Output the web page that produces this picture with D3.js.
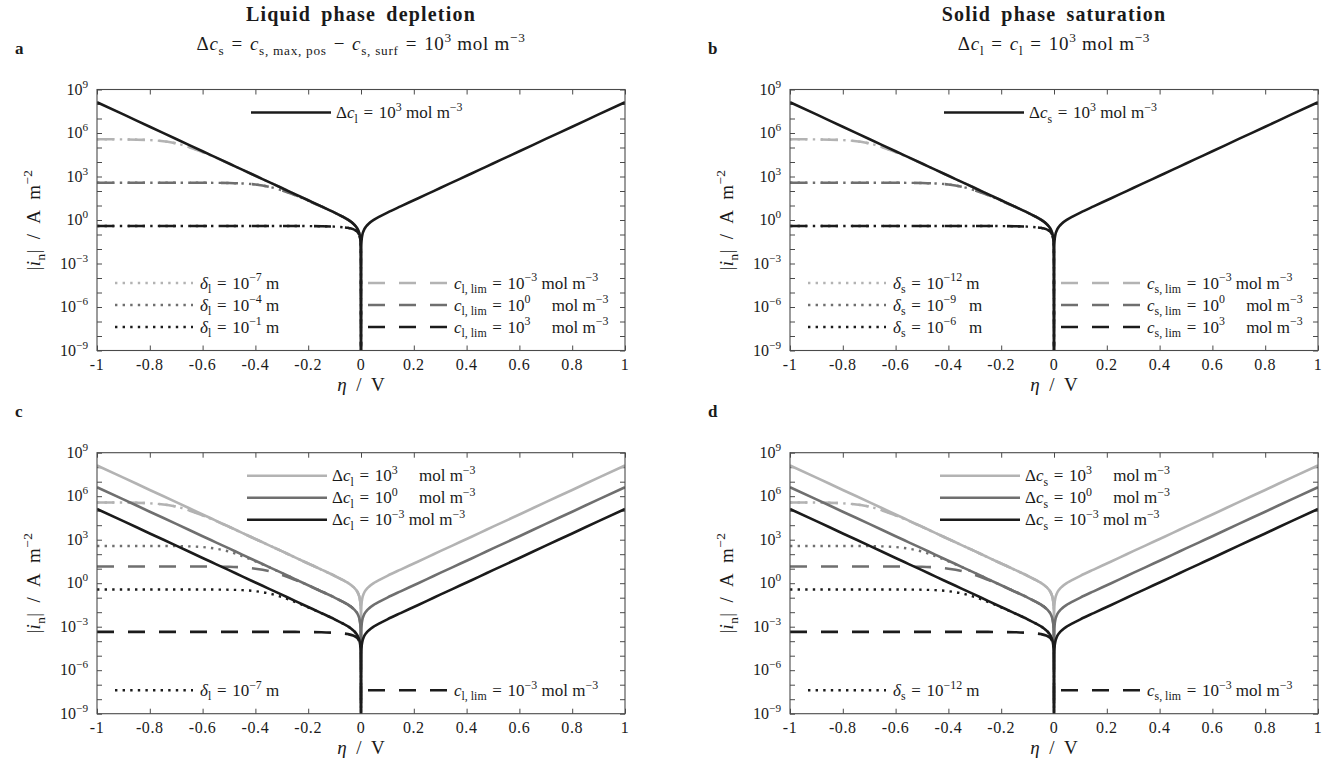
<!DOCTYPE html>
<html>
<head>
<meta charset="utf-8">
<script src="https://cdn.jsdelivr.net/npm/d3@7"></script>
<style>
  html, body { margin: 0; padding: 0; background: #fff; }
  svg { display: block; font-family: "Liberation Serif", "DejaVu Serif", serif; }
</style>
</head>
<body>
<svg id="fig" width="1322" height="768"></svg>
<script>
// ---------------------------------------------------------------------------
// Overpotential grids (V)
const etaNeg = [-1, -0.9, -0.8, -0.7, -0.6, -0.55, -0.5, -0.45, -0.4, -0.35, -0.3, -0.25,
  -0.2, -0.15, -0.1, -0.07, -0.05, -0.03, -0.02, -0.01, -0.005, -0.002, -0.001, -0.0003, 0];
const etaFull = [-1, -0.9, -0.8, -0.7, -0.6, -0.55, -0.5, -0.45, -0.4, -0.35, -0.3, -0.25,
  -0.2, -0.15, -0.1, -0.07, -0.05, -0.03, -0.02, -0.01, -0.005, -0.002, -0.001, -0.0003, 0,
  0.0003, 0.001, 0.002, 0.005, 0.01, 0.02, 0.03, 0.05, 0.07, 0.1, 0.15, 0.2, 0.25, 0.3,
  0.35, 0.4, 0.45, 0.5, 0.55, 0.6, 0.7, 0.8, 0.9, 1];

// log10 |i_n| (A m^-2), kinetic curves on etaFull
const bvHi = [8.12, 7.28, 6.43, 5.59, 4.74, 4.32, 3.90, 3.47, 3.05, 2.63, 2.21, 1.78, 1.36, 0.94,
  0.51, 0.23, 0.03, -0.24, -0.43, -0.74, -1.04, -1.44, -1.74, -2.26, -9,
  -2.26, -1.74, -1.44, -1.04, -0.74, -0.43, -0.24, 0.03, 0.23, 0.51, 0.94, 1.36, 1.78, 2.21,
  2.63, 3.05, 3.47, 3.90, 4.32, 4.74, 5.59, 6.43, 7.28, 8.12];
const bvMid = [6.62, 5.78, 4.93, 4.09, 3.24, 2.82, 2.40, 1.97, 1.55, 1.13, 0.71, 0.28, -0.14, -0.56,
  -0.99, -1.27, -1.47, -1.74, -1.93, -2.24, -2.54, -2.94, -3.24, -3.76, -9,
  -3.76, -3.24, -2.94, -2.54, -2.24, -1.93, -1.74, -1.47, -1.27, -0.99, -0.56, -0.14, 0.28, 0.71,
  1.13, 1.55, 1.97, 2.40, 2.82, 3.24, 4.09, 4.93, 5.78, 6.62];
const bvLo = [5.12, 4.28, 3.43, 2.59, 1.74, 1.32, 0.90, 0.47, 0.05, -0.37, -0.79, -1.22, -1.64, -2.06,
  -2.49, -2.77, -2.97, -3.24, -3.43, -3.74, -4.04, -4.44, -4.74, -5.26, -9,
  -5.26, -4.74, -4.44, -4.04, -3.74, -3.43, -3.24, -2.97, -2.77, -2.49, -2.06, -1.64, -1.22, -0.79,
  -0.37, 0.05, 0.47, 0.90, 1.32, 1.74, 2.59, 3.43, 4.28, 5.12];

// log10 |i_n| with transport limitation, on etaNeg
const limHi = [5.57, 5.56, 5.51, 5.28, 4.68, 4.30, 3.89, 3.47, 3.05, 2.63, 2.21, 1.78, 1.36, 0.94,
  0.51, 0.23, 0.03, -0.24, -0.43, -0.74, -1.04, -1.44, -1.74, -2.26, -9];
const limMid = [2.57, 2.57, 2.57, 2.57, 2.57, 2.56, 2.55, 2.52, 2.45, 2.30, 2.05, 1.72, 1.33, 0.93,
  0.51, 0.23, 0.03, -0.24, -0.43, -0.74, -1.04, -1.44, -1.74, -2.26, -9];
const limLo = [-0.41, -0.41, -0.41, -0.41, -0.41, -0.41, -0.41, -0.41, -0.41, -0.41, -0.41, -0.41,
  -0.42, -0.43, -0.46, -0.50, -0.54, -0.63, -0.72, -0.91, -1.13, -1.48, -1.76, -2.27, -9];
const dotMid = [2.57, 2.57, 2.57, 2.56, 2.49, 2.38, 2.18, 1.87, 1.51, 1.12, 0.70, 0.28, -0.14, -0.56,
  -0.99, -1.27, -1.47, -1.74, -1.93, -2.24, -2.54, -2.94, -3.24, -3.76, -9];
const dashMid = [1.15, 1.15, 1.15, 1.15, 1.15, 1.14, 1.13, 1.09, 1.00, 0.84, 0.58, 0.23, -0.16, -0.57,
  -0.99, -1.27, -1.47, -1.74, -1.93, -2.24, -2.54, -2.94, -3.24, -3.76, -9];
const dotLo = [-0.43, -0.43, -0.43, -0.43, -0.43, -0.44, -0.45, -0.48, -0.55, -0.70, -0.95, -1.29,
  -1.67, -2.07, -2.49, -2.77, -2.97, -3.24, -3.43, -3.74, -4.04, -4.44, -4.74, -5.26, -9];
const dashLo = [-3.36, -3.36, -3.36, -3.36, -3.36, -3.36, -3.36, -3.36, -3.36, -3.36, -3.36, -3.36,
  -3.37, -3.38, -3.42, -3.46, -3.51, -3.61, -3.70, -3.89, -4.12, -4.47, -4.76, -5.27, -9];

// Axis ticks
const xTicks = [-1, -0.8, -0.6, -0.4, -0.2, 0, 0.2, 0.4, 0.6, 0.8, 1];
const xTickLabels = ["-1", "-0.8", "-0.6", "-0.4", "-0.2", "0", "0.2", "0.4", "0.6", "0.8", "1"];
const yDecades = d3.range(-9, 10);
const yLabelExps = [9, 6, 3, 0, -3, -6, -9];
const yLabelTexts = ["9", "6", "3", "0", "\u22123", "\u22126", "\u22129"];

// Text (markup: *italic*, _{sub}, ^{sup})
const panelLetters = ["a", "b", "c", "d"];
const titles = ["Liquid phase depletion", "Solid phase saturation"];
const subtitles = [
  "\u0394*c*_{s} = *c*_{s, max, pos} \u2212 *c*_{s, surf} = 10^{3} mol m^{\u22123}",
  "\u0394*c*_{l} = *c*_{l} = 10^{3} mol m^{\u22123}"
];
const yTitle = "|*i*_{n}|\u2002/\u2002A\u2002m^{\u22122}";
const xTitle = "*\u03b7*\u2002/\u2002V";

const legTopA = ["\u0394*c*_{l} = 10^{3} mol m^{\u22123}"];
const legTopB = ["\u0394*c*_{s} = 10^{3} mol m^{\u22123}"];
const legDeltaA = ["*\u03b4*_{l} = 10^{\u22127} m", "*\u03b4*_{l} = 10^{\u22124} m", "*\u03b4*_{l} = 10^{\u22121} m"];
const legDeltaB = ["*\u03b4*_{s} = 10^{\u221212} m", "*\u03b4*_{s} = 10^{\u22129}\u2002 m", "*\u03b4*_{s} = 10^{\u22126}\u2002 m"];
const legLimA = ["*c*_{l, lim} = 10^{\u22123} mol m^{\u22123}", "*c*_{l, lim} = 10^{0}\u2003 mol m^{\u22123}", "*c*_{l, lim} = 10^{3}\u2003 mol m^{\u22123}"];
const legLimB = ["*c*_{s, lim} = 10^{\u22123} mol m^{\u22123}", "*c*_{s, lim} = 10^{0}\u2003 mol m^{\u22123}", "*c*_{s, lim} = 10^{3}\u2003 mol m^{\u22123}"];
const legTopC = ["\u0394*c*_{l} = 10^{3}\u2003 mol m^{\u22123}", "\u0394*c*_{l} = 10^{0}\u2003 mol m^{\u22123}", "\u0394*c*_{l} = 10^{\u22123} mol m^{\u22123}"];
const legTopD = ["\u0394*c*_{s} = 10^{3}\u2003 mol m^{\u22123}", "\u0394*c*_{s} = 10^{0}\u2003 mol m^{\u22123}", "\u0394*c*_{s} = 10^{\u22123} mol m^{\u22123}"];
const legDeltaC = ["*\u03b4*_{l} = 10^{\u22127} m"];
const legDeltaD = ["*\u03b4*_{s} = 10^{\u221212} m"];
const legLimC = ["*c*_{l, lim} = 10^{\u22123} mol m^{\u22123}"];
const legLimD = ["*c*_{s, lim} = 10^{\u22123} mol m^{\u22123}"];

// ---------------------------------------------------------------------------
const LIGHT = "#b3b3b3", MID = "#6f6f6f", DARK = "#1b1b1b";
const DASH = "17,14", DOT = "2.4,5.2";
const W = 528, H = 261;
const svg = d3.select("#fig");

// rich text with italics, subscripts and superscripts; relations get math spacing
function rich(parent, str, size) {
  str = str.replace(/ = /g, "\u2004=\u2004").replace(/ \u2212 /g, "\u2004\u2212\u2004");
  const t = parent.append("text").attr("font-size", size).attr("fill", "#1a1a1a");
  const segs = [];
  let buf = "", it = false, i = 0;
  const flush = () => { if (buf) { segs.push({ s: buf, it, sh: 0 }); buf = ""; } };
  while (i < str.length) {
    const ch = str[i];
    if (ch === "*") { flush(); it = !it; i++; continue; }
    if ((ch === "_" || ch === "^") && str[i + 1] === "{") {
      flush();
      const end = str.indexOf("}", i);
      segs.push({ s: str.slice(i + 2, end), it: false, sh: ch === "_" ? 1 : -1 });
      i = end + 1; continue;
    }
    buf += ch; i++;
  }
  flush();
  let cur = 0;
  segs.forEach(sg => {
    const target = sg.sh === 1 ? size * 0.28 : sg.sh === -1 ? -size * 0.42 : 0;
    const ts = t.append("tspan").text(sg.s).attr("dy", target - cur);
    if (sg.it) ts.attr("font-style", "italic");
    if (sg.sh) ts.attr("font-size", size * 0.7);
    cur = target;
  });
  return t;
}

const panels = [
  {
    idx: 0, left: 97, top: 89.5, legTopX: 154,
    series: [
      { x: etaNeg, y: limHi, c: LIGHT, d: DASH }, { x: etaNeg, y: limHi, c: LIGHT, d: DOT },
      { x: etaNeg, y: limMid, c: MID, d: DASH }, { x: etaNeg, y: limMid, c: MID, d: DOT },
      { x: etaNeg, y: limLo, c: DARK, d: DASH }, { x: etaNeg, y: limLo, c: DARK, d: DOT },
      { x: etaFull, y: bvHi, c: DARK, d: null }
    ],
    legTop: [[legTopA[0], DARK]],
    legDots: [[legDeltaA[0], LIGHT], [legDeltaA[1], MID], [legDeltaA[2], DARK]],
    legDashes: [[legLimA[0], LIGHT], [legLimA[1], MID], [legLimA[2], DARK]]
  },
  {
    idx: 1, left: 790, top: 89.5, legTopX: 154,
    series: [
      { x: etaNeg, y: limHi, c: LIGHT, d: DASH }, { x: etaNeg, y: limHi, c: LIGHT, d: DOT },
      { x: etaNeg, y: limMid, c: MID, d: DASH }, { x: etaNeg, y: limMid, c: MID, d: DOT },
      { x: etaNeg, y: limLo, c: DARK, d: DASH }, { x: etaNeg, y: limLo, c: DARK, d: DOT },
      { x: etaFull, y: bvHi, c: DARK, d: null }
    ],
    legTop: [[legTopB[0], DARK]],
    legDots: [[legDeltaB[0], LIGHT], [legDeltaB[1], MID], [legDeltaB[2], DARK]],
    legDashes: [[legLimB[0], LIGHT], [legLimB[1], MID], [legLimB[2], DARK]]
  },
  {
    idx: 2, left: 97, top: 452.7, legTopX: 150,
    series: [
      { x: etaNeg, y: limHi, c: LIGHT, d: DASH }, { x: etaNeg, y: limHi, c: LIGHT, d: DOT },
      { x: etaNeg, y: dotMid, c: MID, d: DOT }, { x: etaNeg, y: dashMid, c: MID, d: DASH },
      { x: etaNeg, y: dotLo, c: DARK, d: DOT }, { x: etaNeg, y: dashLo, c: DARK, d: DASH },
      { x: etaFull, y: bvHi, c: LIGHT, d: null }, { x: etaFull, y: bvMid, c: MID, d: null },
      { x: etaFull, y: bvLo, c: DARK, d: null }
    ],
    legTop: [[legTopC[0], LIGHT], [legTopC[1], MID], [legTopC[2], DARK]],
    legDots: [null, null, [legDeltaC[0], DARK]],
    legDashes: [null, null, [legLimC[0], DARK]]
  },
  {
    idx: 3, left: 790, top: 452.7, legTopX: 150,
    series: [
      { x: etaNeg, y: limHi, c: LIGHT, d: DASH }, { x: etaNeg, y: limHi, c: LIGHT, d: DOT },
      { x: etaNeg, y: dotMid, c: MID, d: DOT }, { x: etaNeg, y: dashMid, c: MID, d: DASH },
      { x: etaNeg, y: dotLo, c: DARK, d: DOT }, { x: etaNeg, y: dashLo, c: DARK, d: DASH },
      { x: etaFull, y: bvHi, c: LIGHT, d: null }, { x: etaFull, y: bvMid, c: MID, d: null },
      { x: etaFull, y: bvLo, c: DARK, d: null }
    ],
    legTop: [[legTopD[0], LIGHT], [legTopD[1], MID], [legTopD[2], DARK]],
    legDots: [null, null, [legDeltaD[0], DARK]],
    legDashes: [null, null, [legLimD[0], DARK]]
  }
];

panels.forEach(p => {
  const g = svg.append("g").attr("transform", `translate(${p.left},${p.top})`);
  const x = d3.scaleLinear().domain([-1, 1]).range([0, W]);
  const y = d3.scaleLog().domain([1e-9, 1e9]).range([H, 0]).clamp(true);

  const clipId = "clip" + p.idx;
  g.append("clipPath").attr("id", clipId).append("rect").attr("width", W).attr("height", H);

  // ticks (inside, on all four sides)
  const tickStyle = sel => {
    sel.select(".domain").remove();
    sel.selectAll(".tick line").attr("stroke", "#4a4a4a").attr("stroke-width", 1);
    sel.selectAll(".tick text").remove();
  };
  g.append("g").attr("transform", `translate(0,${H})`)
    .call(d3.axisBottom(x).tickValues(xTicks).tickSizeInner(-5).tickSizeOuter(0)).call(tickStyle);
  g.append("g")
    .call(d3.axisTop(x).tickValues(xTicks).tickSizeInner(-5).tickSizeOuter(0)).call(tickStyle);
  const yVals = yDecades.map(e => Math.pow(10, e));
  g.append("g")
    .call(d3.axisLeft(y).tickValues(yVals).tickSizeInner(-5).tickSizeOuter(0)).call(tickStyle);
  g.append("g").attr("transform", `translate(${W},0)`)
    .call(d3.axisRight(y).tickValues(yVals).tickSizeInner(-5).tickSizeOuter(0)).call(tickStyle);

  // curves
  const plot = g.append("g").attr("clip-path", `url(#${clipId})`);
  p.series.forEach(s => {
    const pts = s.x.map((v, k) => [v, Math.pow(10, s.y[k])]);
    const line = d3.line().x(d => x(d[0])).y(d => y(d[1])).curve(d3.curveMonotoneX);
    plot.append("path").attr("d", line(pts)).attr("fill", "none")
      .attr("stroke", s.c).attr("stroke-width", s.d === DOT ? 2.4 : 2.6)
      .attr("stroke-dasharray", s.d).attr("stroke-linejoin", "round");
  });

  // frame
  g.append("rect").attr("width", W).attr("height", H).attr("fill", "none")
    .attr("stroke", "#4a4a4a").attr("stroke-width", 1.1);

  // tick labels
  xTicks.forEach((v, k) => {
    g.append("text").attr("x", x(v)).attr("y", H + 19).attr("text-anchor", "middle")
      .attr("font-size", 16).attr("letter-spacing", 0.6).attr("fill", "#1a1a1a").text(xTickLabels[k]);
  });
  yLabelExps.forEach((e, k) => {
    rich(g, "10^{" + yLabelTexts[k] + "}", 16).attr("x", -9).attr("y", y(Math.pow(10, e)) + 5)
      .attr("text-anchor", "end");
  });

  // axis titles
  rich(g, xTitle, 19).attr("x", W / 2).attr("y", H + 40).attr("text-anchor", "middle");
  rich(g, yTitle, 19).attr("text-anchor", "middle").attr("letter-spacing", 0.4)
    .attr("transform", `translate(-57,${H / 2}) rotate(-90)`);

  // panel letter and headings
  g.append("text").attr("x", -82).attr("y", -35.5).attr("font-size", 17)
    .attr("font-weight", "bold").attr("fill", "#1a1a1a").text(panelLetters[p.idx]);
  if (p.idx < 2) {
    g.append("text").attr("x", W / 2).attr("y", -69).attr("text-anchor", "middle")
      .attr("font-size", 20).attr("font-weight", "bold").attr("letter-spacing", 1.2)
      .attr("word-spacing", 4).attr("fill", "#1a1a1a").text(titles[p.idx]);
    rich(g, subtitles[p.idx], 19).attr("x", W / 2).attr("y", -39.5).attr("text-anchor", "middle")
      .attr("letter-spacing", 0.7);
  }

  // legends
  const legRow = [23, 45, 67];
  p.legTop.forEach((it, k) => {
    g.append("line").attr("x1", p.legTopX).attr("x2", p.legTopX + 80)
      .attr("y1", legRow[k]).attr("y2", legRow[k]).attr("stroke", it[1]).attr("stroke-width", 2.6);
    rich(g, it[0], 17).attr("x", p.legTopX + 85).attr("y", legRow[k] + 5.5);
  });
  const botRow = [193.5, 215.5, 237.5];
  p.legDots.forEach((it, k) => {
    if (!it) return;
    g.append("line").attr("x1", 18).attr("x2", 96).attr("y1", botRow[k]).attr("y2", botRow[k])
      .attr("stroke", it[1]).attr("stroke-width", 2.4).attr("stroke-dasharray", DOT);
    rich(g, it[0], 17).attr("x", 103).attr("y", botRow[k] + 5.5);
  });
  p.legDashes.forEach((it, k) => {
    if (!it) return;
    g.append("line").attr("x1", 271).attr("x2", 351).attr("y1", botRow[k]).attr("y2", botRow[k])
      .attr("stroke", it[1]).attr("stroke-width", 2.6).attr("stroke-dasharray", DASH);
    rich(g, it[0], 17).attr("x", 357).attr("y", botRow[k] + 5.5);
  });
});
</script>
</body>
</html>
